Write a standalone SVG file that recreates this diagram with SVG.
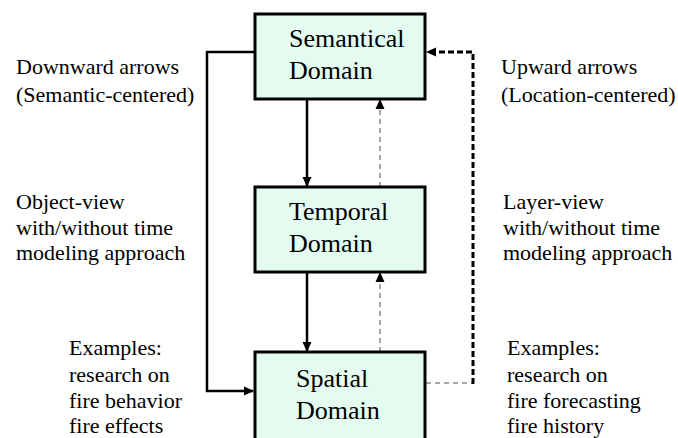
<svg xmlns="http://www.w3.org/2000/svg" width="678" height="438" viewBox="0 0 678 438">
  <style>
    .box { fill: #e3fcef; stroke: #000; stroke-width: 3; }
    .title { font-family: "Liberation Serif", "Times New Roman", serif; font-size: 26px; fill: #000; }
    .note { font-family: "Liberation Serif", "Times New Roman", serif; font-size: 22px; fill: #000; }
    .solid { fill: none; stroke: #000; stroke-width: 2.5; }
    .grey { fill: none; stroke: #8a8a8a; stroke-width: 1.5; stroke-dasharray: 5 4; }
    .black-dash { fill: none; stroke: #000; stroke-width: 3; stroke-dasharray: 6 3; }
  </style>
  <defs>
    <marker id="head" markerWidth="10" markerHeight="10" refX="9" refY="5" orient="auto" markerUnits="userSpaceOnUse">
      <path d="M0,0.5 L10,5 L0,9.5 Z" fill="#000"/>
    </marker>
  </defs>

  <rect width="678" height="438" fill="#fff"/>

  <g id="connectors">
    <!-- semantic-centered path: left side, down to spatial -->
    <path class="solid" d="M255,52 H207 V391 H253" marker-end="url(#head)"/>
    <!-- downward arrows -->
    <path class="solid" d="M307,99 V186" marker-end="url(#head)"/>
    <path class="solid" d="M307,272 V351" marker-end="url(#head)"/>
    <!-- upward arrows (grey dashed) -->
    <path class="grey" d="M380,352 V273" marker-end="url(#head)"/>
    <path class="grey" d="M380,187 V100" marker-end="url(#head)"/>
    <!-- location-centered path: right side, up to semantical -->
    <path class="grey" d="M426,383 H473"/>
    <path class="black-dash" d="M473,384 V52 H427" marker-end="url(#head)"/>
  </g>

  <g id="semantical">
    <rect class="box" x="255" y="14" width="170" height="85"/>
    <text class="title" x="289" y="47">Semantical</text>
    <text class="title" x="289" y="79">Domain</text>
  </g>

  <g id="temporal">
    <rect class="box" x="255" y="187" width="170" height="85"/>
    <text class="title" x="289" y="220">Temporal</text>
    <text class="title" x="289" y="252">Domain</text>
  </g>

  <g id="spatial">
    <rect class="box" x="255" y="352" width="170" height="90"/>
    <text class="title" x="296" y="387">Spatial</text>
    <text class="title" x="296" y="419">Domain</text>
  </g>

  <g id="left-notes">
    <text class="note" x="16" y="74">Downward arrows</text>
    <text class="note" x="16" y="102">(Semantic-centered)</text>
    <text class="note" x="16" y="209">Object-view</text>
    <text class="note" x="16" y="235">with/without time</text>
    <text class="note" x="16" y="260">modeling approach</text>
    <text class="note" x="69" y="355">Examples:</text>
    <text class="note" x="69" y="382">research on</text>
    <text class="note" x="69" y="408">fire behavior</text>
    <text class="note" x="69" y="433">fire effects</text>
  </g>

  <g id="right-notes">
    <text class="note" x="501" y="74">Upward arrows</text>
    <text class="note" x="501" y="102">(Location-centered)</text>
    <text class="note" x="503" y="209">Layer-view</text>
    <text class="note" x="503" y="235">with/without time</text>
    <text class="note" x="503" y="260">modeling approach</text>
    <text class="note" x="507" y="355">Examples:</text>
    <text class="note" x="507" y="382">research on</text>
    <text class="note" x="507" y="408">fire forecasting</text>
    <text class="note" x="507" y="433">fire history</text>
  </g>
</svg>
